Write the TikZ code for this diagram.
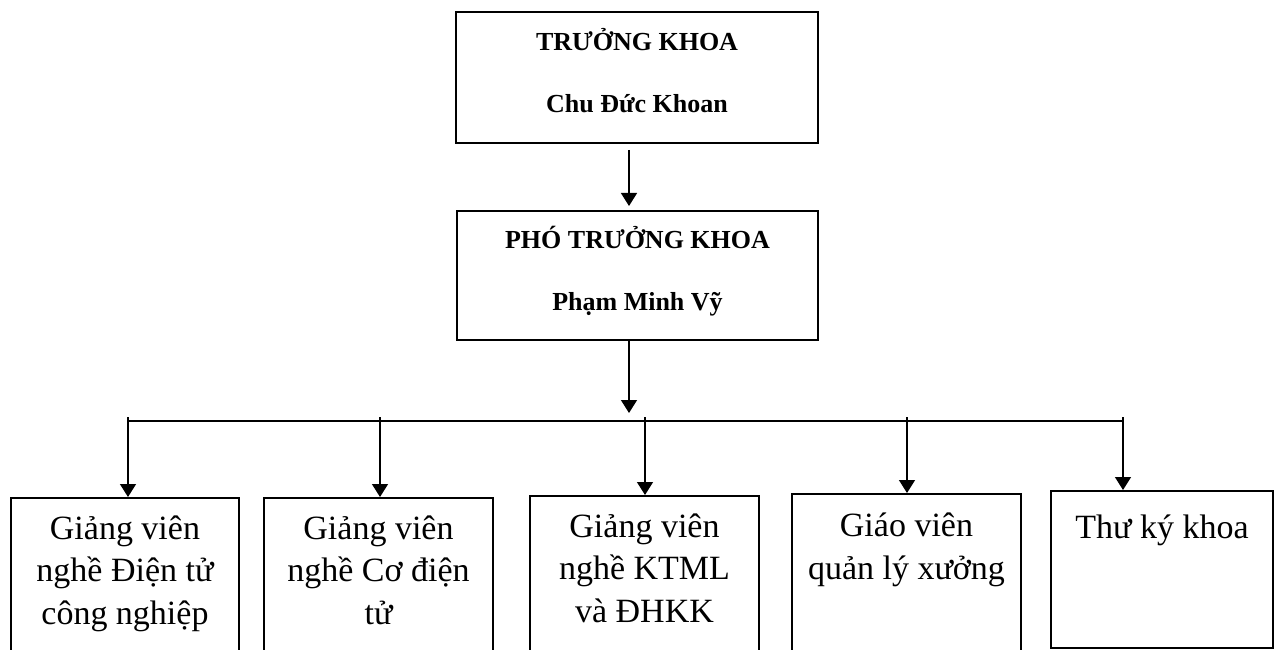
\documentclass[tikz,border=0pt]{standalone}
\usepackage{fontspec}
\setmainfont{Liberation Serif}
\usetikzlibrary{positioning,arrows.meta}

\tikzset{
  khung/.style={draw, line width=1pt, inner sep=0pt},
  lanhdao/.style={khung, align=center, text depth=7pt, font=\fontsize{13}{31}\selectfont\bfseries},
  muiten/.style={-{Triangle[width=8pt,length=6.5pt]}, line width=0.7pt},
  chu/.style={align=center, anchor=base, inner sep=0pt, font=\fontsize{17}{21.2}\selectfont},
}

\begin{document}
\begin{tikzpicture}[x=0.5pt,y=0.5pt]
  \useasboundingbox (0,0) rectangle (1274,649);
  % lanh dao khoa
  \node[lanhdao, minimum width=181pt, minimum height=65.5pt] (truongkhoa) at (637,571.5)
        {TRƯỞNG KHOA\\Chu Đức Khoan};
  \node[lanhdao, minimum width=180.5pt, minimum height=64.5pt] (photruong) at (637.5,373.5)
        {PHÓ TRƯỞNG KHOA\\Phạm Minh Vỹ};
  \coordinate (truc) at (629,236);
  \draw[muiten, shorten <=3pt, shorten >=2pt] (truongkhoa.south -| truc) -- (photruong.north -| truc);
  \draw[muiten] (photruong.south -| truc) -- (truc);

  % cac bo phan
  \node[khung, anchor=north, minimum width=114pt, minimum height=90pt] (gv1) at (125,152) {};
  \node[khung, anchor=north, minimum width=114.5pt, minimum height=90pt] (gv2) at (378.5,152) {};
  \node[khung, anchor=north, minimum width=114.5pt, minimum height=90pt] (gv3) at (644.5,154) {};
  \node[khung, anchor=north, minimum width=114.5pt, minimum height=90pt] (gv4) at (906.5,156) {};
  \node[khung, anchor=north, minimum width=111pt, minimum height=78.5pt] (tk) at (1162,159) {};

  % base = dong cuoi
  \node[chu] (t1) at ([yshift=-63.5pt]gv1.north) {Giảng viên\\nghề Điện tử\\công nghiệp};
  \node[chu] (t2) at ([yshift=-63.5pt]gv2.north) {Giảng viên\\nghề Cơ điện\\tử};
  \node[chu] (t3) at ([yshift=-63.5pt]gv3.north) {Giảng viên\\nghề KTML\\và ĐHKK};
  \node[chu] (t4) at ([yshift=-43pt]gv4.north) {Giáo viên\\quản lý xưởng};
  \node[chu] (t5) at ([yshift=-24pt]tk.north) {Thư ký khoa};

  \foreach \bp/\x in {gv1/128,gv2/380,gv3/645,gv4/907,tk/1123}{
    \coordinate (n\bp) at (\x,232);
    \draw[muiten] (n\bp) -- (\bp.north -| n\bp);
  }
  \draw[line width=0.7pt] ([yshift=-2pt]ngv1) -- ([yshift=-2pt]ntk);
\end{tikzpicture}
\end{document}
